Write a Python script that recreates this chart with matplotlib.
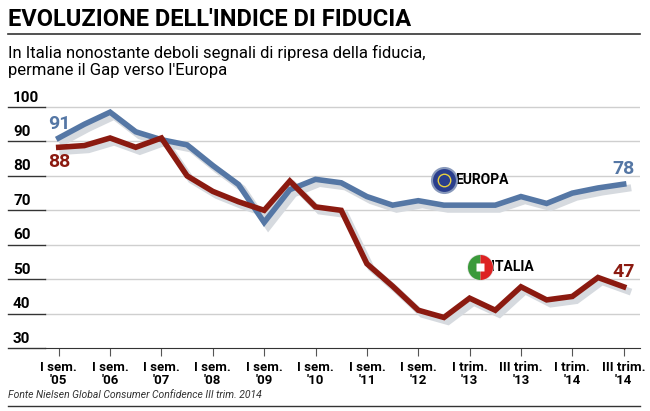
import matplotlib
matplotlib.use("Agg")
import matplotlib.pyplot as plt
import numpy as np

tick_labels = ["I sem.\n'05","I sem.\n'06","I sem.\n'07","I sem.\n'08","I sem.\n'09","I sem.\n'10",
               "I sem.\n'11","I sem.\n'12","I trim.\n'13","III trim.\n'13","I trim.\n'14","III trim.\n'14"]
x = [i*0.5 for i in range(23)]
europa = [91,95,98.5,92.8,90.5,89,83,77.5,66.5,76,79,78,74,71.5,72.8,71.5,71.5,71.5,74,72,75,76.5,77.6]
italia = [88.3,88.8,91,88.3,91,80,75.5,72.5,70,78.5,71,70,54.5,48,41,38.9,44.5,41,47.8,44,45,50.5,47.8]

plt.rcParams['font.family'] = ['Roboto', 'DejaVu Sans']
fig = plt.figure(figsize=(6.5, 4.11), dpi=100)
ax = fig.add_axes([0.069, 0.153, 0.915, 0.616])
ax.set_xlim(-0.27, 11.31)
ax.set_ylim(30, 103.5)

for v in range(40, 101, 10):
    ax.axhline(v, color='#cfcfcf', lw=1, zorder=0)
blue = '#5577a5'; red = '#8b1a10'; shadow = '#d6dadf'
ax.plot(np.array(x)+0.08, np.array(europa)-1.2, color=shadow, lw=5, solid_joinstyle='miter', zorder=1)
ax.plot(np.array(x)+0.08, np.array(italia)-1.2, color=shadow, lw=5, solid_joinstyle='miter', zorder=1)
ax.plot(x, europa, color=blue, lw=4, solid_joinstyle='miter', zorder=3)
ax.plot(x, italia, color=red, lw=4, solid_joinstyle='miter', zorder=4)

ax.text(-0.2, 92.5, "91", color=blue, fontsize=14, fontweight='bold', ha='left', va='bottom')
ax.text(-0.2, 86.5, "88", color=red, fontsize=14, fontweight='bold', ha='left', va='top')
ax.text(11.0, 79.5, "78", color=blue, fontsize=14, fontweight='bold', ha='center', va='bottom')
ax.text(11.0, 49.5, "47", color=red, fontsize=14, fontweight='bold', ha='center', va='bottom')

ax.plot([7.5], [78.7], marker='o', ms=18, color='#2a3e8c', mec='#8899bb', mew=1.5, zorder=5)
ax.plot([7.5], [78.7], marker='o', ms=9, mfc='none', mec='#e8d040', mew=1, ls=':', zorder=6)
ax.text(7.72, 78.7, "EUROPA", fontsize=10, fontweight='bold', va='center', ha='left')
ax.plot([8.2], [53.5], marker='o', ms=18, color='#ffffff', mec='#dddddd', zorder=5)
ax.plot([8.2], [53.5], marker='o', ms=18, fillstyle='left', color='#3a9a3a', mec='none',
        markerfacecoloralt='#d22', zorder=5)
ax.plot([8.2], [53.5], marker='s', ms=6, color='white', mec='none', zorder=6)
ax.text(8.42, 53.5, "ITALIA", fontsize=10, fontweight='bold', va='center', ha='left')

ax.set_xticks(range(12))
ax.set_xticklabels(tick_labels, fontsize=9.5, fontweight='bold', linespacing=1.0)
ax.tick_params(axis='x', length=6, color='#555', pad=3)
ax.set_yticks([])
for s in ['top','right','left']:
    ax.spines[s].set_visible(False)
ax.spines['bottom'].set_color('#333')
for v in range(30, 101, 10):
    y = (v - 30) / (103.5 - 30) * 0.616 + 0.153
    fig.text(0.02, y + 0.006, str(v), fontsize=11, fontweight='bold', ha='left', va='bottom')
    fig.add_artist(plt.Line2D([0.012, 0.069], [y, y], color='#333', lw=1))

fig.text(0.012, 0.925, "EVOLUZIONE DELL'INDICE DI FIDUCIA", fontsize=17, fontweight='bold', ha='left', va='bottom')
fig.add_artist(plt.Line2D([0.012, 0.985], [0.918, 0.918], color='#333', lw=1.2))
fig.text(0.012, 0.81, "In Italia nonostante deboli segnali di ripresa della fiducia,\npermane il Gap verso l'Europa",
         fontsize=12, ha='left', va='bottom', linespacing=1.15)
fig.text(0.012, 0.027, "Fonte Nielsen Global Consumer Confidence III trim. 2014", fontsize=7.5, style='italic',
         color='#333', ha='left', va='bottom')
fig.add_artist(plt.Line2D([0.012, 0.985], [0.012, 0.012], color='#333', lw=1))
fig.savefig("out.png", dpi=100)
